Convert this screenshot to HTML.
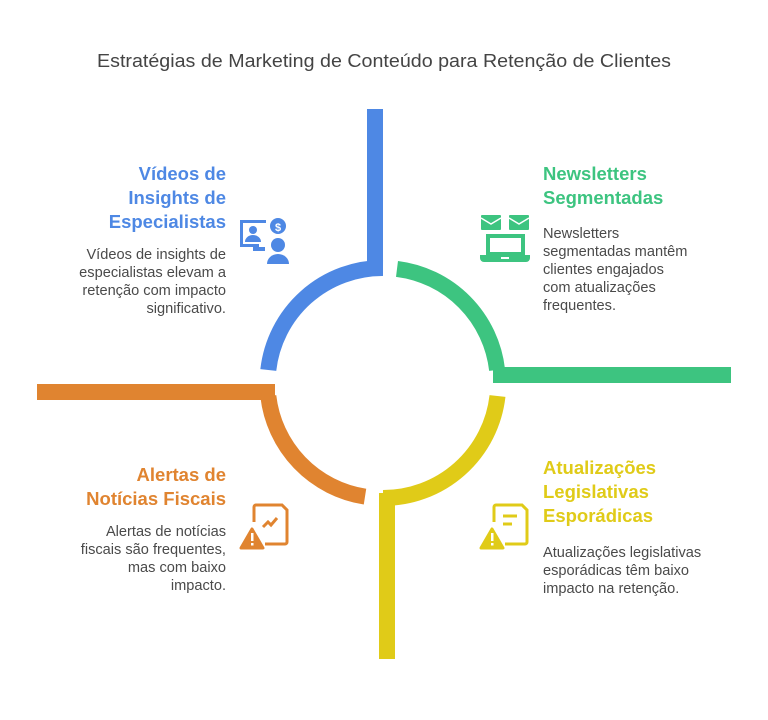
<!DOCTYPE html>
<html><head><meta charset="utf-8"><style>
html,body{margin:0;padding:0;background:#fff;width:768px;height:720px;overflow:hidden}
svg{display:block}
text{font-family:"Liberation Sans",sans-serif}
.h{font-weight:bold;font-size:18.5px}
.b{font-size:14.6px;fill:#4a4a4a}
</style></head><body>
<svg width="768" height="720" viewBox="0 0 768 720" xmlns="http://www.w3.org/2000/svg">
<text x="97" y="67" textLength="574" lengthAdjust="spacingAndGlyphs" font-size="18.5" fill="#444">Estratégias de Marketing de Conteúdo para Retenção de Clientes</text>

<g fill="none" stroke-width="16" stroke-linecap="butt">
<path d="M268.3 370 A115 115 0 0 1 383 268" stroke="#4E88E4"/>
<path d="M397 268.9 A115 115 0 0 1 497.1 370" stroke="#3DC480"/>
<path d="M268.3 396 A115 115 0 0 0 365 496.6" stroke="#E08430"/>
<path d="M497.5 396 A115 115 0 0 1 383 498" stroke="#E0CB18"/>
</g>
<rect x="367" y="109" width="16" height="166" fill="#4E88E4"/>
<rect x="493" y="367" width="238" height="16" fill="#3DC480"/>
<rect x="37" y="384" width="238" height="16" fill="#E08430"/>
<rect x="379" y="493" width="16" height="166" fill="#E0CB18"/>

<!-- Blue -->
<g fill="#4E88E4" text-anchor="end">
<text x="226" y="180" class="h">Vídeos de</text>
<text x="226" y="204" class="h">Insights de</text>
<text x="226" y="228" class="h">Especialistas</text>
</g>
<g text-anchor="end">
<text x="226" y="259" class="b">Vídeos de insights de</text>
<text x="226" y="277" class="b">especialistas elevam a</text>
<text x="226" y="295" class="b">retenção com impacto</text>
<text x="226" y="313" class="b">significativo.</text>
</g>
<g fill="#4E88E4">
<path d="M240 220 h26 v3 h-23 v21 h16 v3 h-19 z"/>
<rect x="253" y="247" width="12" height="4"/>
<circle cx="253" cy="230" r="4"/>
<path d="M245 242 a8 7 0 0 1 16 0 z"/>
<circle cx="278" cy="226" r="8"/>
<circle cx="278" cy="245" r="7"/>
<path d="M267 264 a11 10 0 0 1 22 0 z"/>
</g>
<text x="278" y="231" font-size="11" font-weight="bold" fill="#fff" text-anchor="middle">$</text>

<!-- Green -->
<g fill="#3DC480">
<text x="543" y="180" class="h">Newsletters</text>
<text x="543" y="204" class="h">Segmentadas</text>
</g>
<text x="543" y="238" class="b">Newsletters</text>
<text x="543" y="256" class="b">segmentadas mantêm</text>
<text x="543" y="274" class="b">clientes engajados</text>
<text x="543" y="292" class="b">com atualizações</text>
<text x="543" y="310" class="b">frequentes.</text>
<g fill="#3DC480">
<rect x="481" y="215" width="20" height="15" rx="1"/>
<rect x="509" y="215" width="20" height="15" rx="1"/>
<path d="M486 234 h39 v21 h-39 z M490 238 v14 h31 v-14 z" fill-rule="evenodd"/>
<path d="M480 255 h50 v3 a4 4 0 0 1 -4 4 h-42 a4 4 0 0 1 -4 -4 z"/>
</g>
<rect x="501" y="257" width="8" height="2" fill="#fff"/>
<g fill="none" stroke="#fff" stroke-width="1.5">
<path d="M481 218 l10 6 l10 -6"/><path d="M509 218 l10 6 l10 -6"/>
</g>

<!-- Orange -->
<g fill="#E08430" text-anchor="end">
<text x="226" y="481" class="h">Alertas de</text>
<text x="226" y="505" class="h">Notícias Fiscais</text>
</g>
<g text-anchor="end">
<text x="226" y="536" class="b">Alertas de notícias</text>
<text x="226" y="554" class="b">fiscais são frequentes,</text>
<text x="226" y="572" class="b">mas com baixo</text>
<text x="226" y="590" class="b">impacto.</text>
</g>
<g fill="none" stroke="#E08430" stroke-width="3">
<path d="M254 522 v-15 a2 2 0 0 1 2 -2 h26 l5 5 v32 a2 2 0 0 1 -2 2 h-20"/>
<path d="M263 527 l5 -5 l3 3 l6 -7"/>
</g>
<path d="M252 529 l11 19 h-22 z" fill="#E08430" stroke="#E08430" stroke-width="3" stroke-linejoin="round"/>
<rect x="251" y="533" width="2.5" height="8" fill="#fff"/><rect x="251" y="543" width="2.5" height="2.5" fill="#fff"/>

<!-- Yellow -->
<g fill="#E0CB18">
<text x="543" y="474" class="h">Atualizações</text>
<text x="543" y="498" class="h">Legislativas</text>
<text x="543" y="522" class="h">Esporádicas</text>
</g>
<text x="543" y="557" class="b">Atualizações legislativas</text>
<text x="543" y="575" class="b">esporádicas têm baixo</text>
<text x="543" y="593" class="b">impacto na retenção.</text>
<g fill="none" stroke="#E0CB18" stroke-width="3">
<path d="M494 522 v-15 a2 2 0 0 1 2 -2 h26 l5 5 v32 a2 2 0 0 1 -2 2 h-20"/>
<path d="M503 516 h14 M503 524 h9"/>
</g>
<path d="M492 529 l11 19 h-22 z" fill="#E0CB18" stroke="#E0CB18" stroke-width="3" stroke-linejoin="round"/>
<rect x="491" y="533" width="2.5" height="8" fill="#fff"/><rect x="491" y="543" width="2.5" height="2.5" fill="#fff"/>
</svg>
</body></html>
